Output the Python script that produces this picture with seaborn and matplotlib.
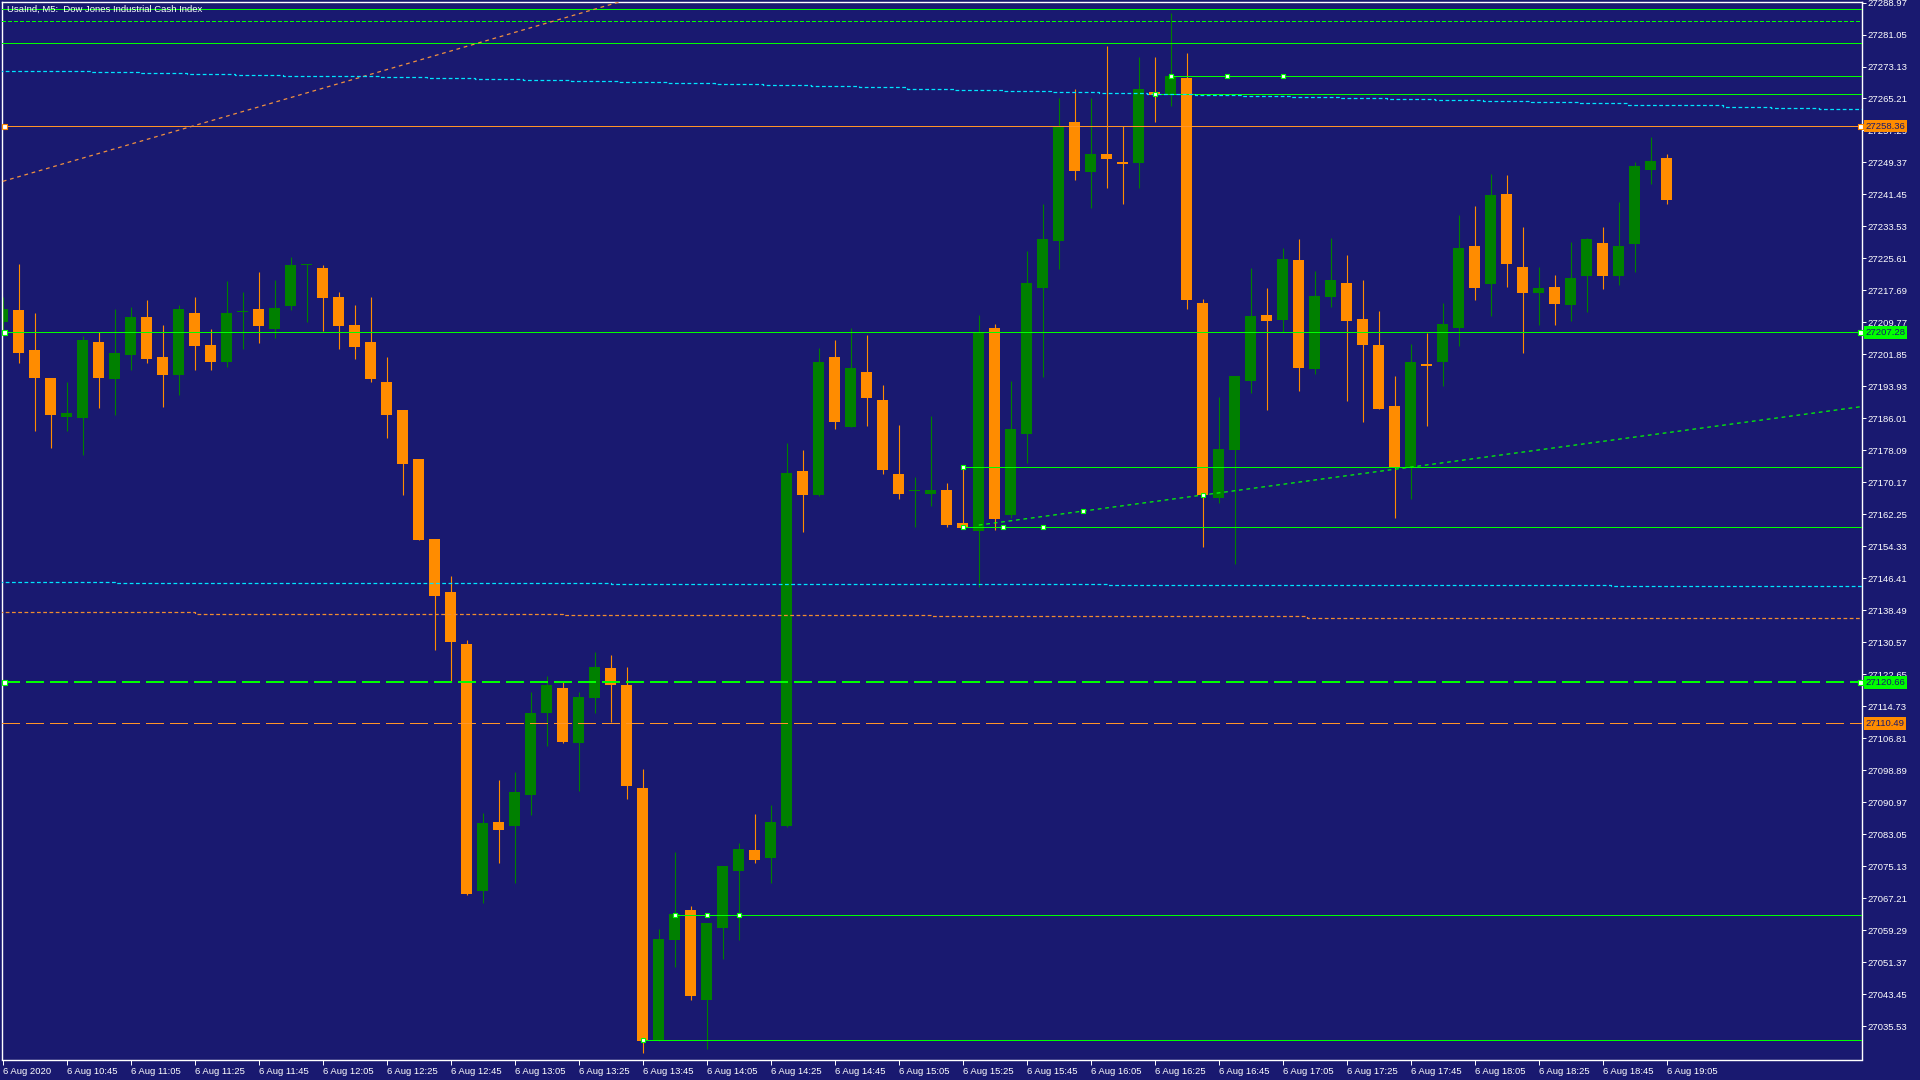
import matplotlib
matplotlib.use('Agg')
import matplotlib.pyplot as plt
import matplotlib.transforms as mtransforms
import numpy as np
import pandas as pd
import seaborn as sns

BG = '#191970'
BULL = '#008000'
BEAR = '#ff8c00'
LIME = '#00ff00'
CYAN = '#00e5ff'

# --- candles (M5 bars from 10:25 to 19:05) ---
opens = [
    27209.9, 27212.9, 27203.0, 27196.1, 27186.3, 27186.2, 27205.0, 27195.8, 27201.8, 27211.2,
    27201.2, 27196.8, 27212.1, 27204.2, 27200.1, 27212.3, 27213.1, 27208.2, 27213.9, 27223.9,
    27223.2, 27216.1, 27209.1, 27205.0, 27195.0, 27188.2, 27176.0, 27156.2, 27143.1, 27130.1,
    27068.9, 27086.2, 27085.0, 27092.9, 27113.2, 27119.3, 27105.7, 27116.9, 27124.1, 27120.1,
    27094.4, 27032.0, 27056.9, 27064.2, 27042.0, 27059.9, 27073.9, 27079.1, 27077.2, 27085.0,
    27173.0, 27167.1, 27201.2, 27184.0, 27197.5, 27190.5, 27172.2, 27168.0, 27167.3, 27168.2,
    27160.2, 27158.2, 27208.4, 27162.0, 27182.2, 27218.3, 27230.0, 27259.4, 27247.1, 27251.5,
    27249.5, 27249.2, 27266.8, 27266.4, 27270.3, 27214.5, 27166.3, 27178.1, 27195.2, 27211.6,
    27210.4, 27225.2, 27198.2, 27216.1, 27219.5, 27210.6, 27204.3, 27189.2, 27174.0, 27199.6,
    27200.1, 27208.5, 27228.7, 27219.3, 27241.6, 27223.5, 27217.1, 27218.6, 27214.1, 27221.2,
    27229.4, 27221.2, 27229.1, 27247.6, 27250.5,
]
highs = [
    27216.0, 27224.3, 27212.1, 27196.1, 27195.0, 27206.3, 27207.5, 27213.1, 27213.5, 27215.3,
    27209.1, 27214.2, 27216.1, 27208.2, 27220.1, 27217.4, 27222.3, 27220.4, 27226.0, 27224.3,
    27224.0, 27217.4, 27214.2, 27216.1, 27201.2, 27188.2, 27176.0, 27156.2, 27147.1, 27131.1,
    27088.4, 27096.4, 27098.4, 27118.2, 27122.3, 27121.1, 27118.2, 27128.2, 27127.5, 27124.4,
    27099.3, 27059.5, 27078.6, 27065.2, 27061.2, 27075.3, 27080.9, 27088.1, 27090.2, 27180.0,
    27178.2, 27203.4, 27205.5, 27208.3, 27206.6, 27194.2, 27184.5, 27171.4, 27186.5, 27170.1,
    27174.2, 27211.5, 27209.3, 27195.3, 27227.5, 27239.2, 27265.4, 27267.6, 27265.4, 27278.3,
    27258.4, 27275.5, 27275.5, 27286.5, 27276.5, 27215.5, 27191.2, 27196.5, 27223.3, 27218.3,
    27228.2, 27230.4, 27222.5, 27230.7, 27226.5, 27220.2, 27212.6, 27196.5, 27204.4, 27207.2,
    27214.5, 27236.4, 27238.7, 27246.5, 27246.3, 27233.4, 27223.5, 27221.5, 27229.6, 27230.6,
    27233.4, 27239.5, 27249.5, 27255.7, 27251.5,
]
lows = [
    27207.0, 27199.8, 27183.0, 27178.7, 27182.9, 27176.9, 27188.7, 27186.9, 27198.0, 27199.8,
    27188.9, 27191.9, 27197.9, 27197.9, 27198.8, 27203.1, 27204.7, 27205.9, 27212.9, 27209.8,
    27207.7, 27203.1, 27200.7, 27195.0, 27181.1, 27167.0, 27156.0, 27128.8, 27120.8, 27068.0,
    27066.1, 27075.9, 27070.9, 27087.9, 27104.8, 27105.7, 27093.8, 27113.0, 27110.9, 27091.9,
    27028.9, 27031.9, 27050.2, 27042.0, 27029.9, 27052.2, 27057.0, 27075.9, 27070.9, 27084.8,
    27158.0, 27166.8, 27183.4, 27184.0, 27184.2, 27172.3, 27166.0, 27159.2, 27164.3, 27159.1,
    27158.6, 27144.3, 27158.4, 27161.3, 27175.0, 27196.3, 27223.0, 27245.0, 27238.2, 27243.1,
    27239.1, 27243.1, 27259.5, 27263.3, 27213.1, 27154.3, 27165.1, 27149.9, 27192.4, 27188.1,
    27207.3, 27192.9, 27197.1, 27213.5, 27190.2, 27185.1, 27188.4, 27161.3, 27166.0, 27184.2,
    27194.0, 27203.9, 27215.3, 27211.4, 27218.6, 27202.3, 27209.2, 27209.2, 27210.2, 27212.3,
    27218.1, 27219.0, 27222.3, 27244.0, 27239.1,
]
closes = [
    27213.1, 27202.1, 27196.1, 27186.9, 27187.4, 27205.5, 27196.1, 27202.3, 27211.2, 27200.7,
    27196.8, 27213.1, 27204.0, 27200.1, 27212.1, 27212.4, 27209.0, 27213.4, 27224.0, 27224.1,
    27215.9, 27209.0, 27203.7, 27195.8, 27186.9, 27174.8, 27156.0, 27142.1, 27130.7, 27068.2,
    27085.9, 27084.0, 27093.4, 27113.2, 27120.1, 27106.0, 27117.1, 27124.4, 27120.1, 27095.1,
    27032.0, 27057.2, 27063.2, 27042.9, 27061.2, 27075.3, 27079.3, 27076.8, 27086.2, 27172.4,
    27167.1, 27200.1, 27185.2, 27198.4, 27191.0, 27173.3, 27167.3, 27168.2, 27168.2, 27159.7,
    27159.0, 27207.3, 27161.0, 27183.4, 27219.5, 27230.4, 27258.3, 27247.3, 27251.5, 27250.2,
    27249.1, 27267.6, 27266.2, 27270.8, 27215.3, 27167.0, 27178.4, 27196.5, 27211.3, 27210.2,
    27225.4, 27198.5, 27216.3, 27220.2, 27210.2, 27204.2, 27188.4, 27174.0, 27200.1, 27199.0,
    27209.3, 27228.2, 27218.3, 27241.3, 27224.2, 27217.1, 27218.3, 27214.4, 27220.7, 27230.4,
    27221.2, 27228.7, 27248.6, 27249.7, 27240.1,
]

tick_times = [
    '6 Aug 2020', '6 Aug 10:45', '6 Aug 11:05', '6 Aug 11:25', '6 Aug 11:45', '6 Aug 12:05',
    '6 Aug 12:25', '6 Aug 12:45', '6 Aug 13:05', '6 Aug 13:25', '6 Aug 13:45', '6 Aug 14:05',
    '6 Aug 14:25', '6 Aug 14:45', '6 Aug 15:05', '6 Aug 15:25', '6 Aug 15:45', '6 Aug 16:05',
    '6 Aug 16:25', '6 Aug 16:45', '6 Aug 17:05', '6 Aug 17:25', '6 Aug 17:45', '6 Aug 18:05',
    '6 Aug 18:25', '6 Aug 18:45', '6 Aug 19:05',
]
price_ticks = [
    27288.97, 27281.05, 27273.13, 27265.21, 27257.29, 27249.37, 27241.45, 27233.53, 27225.61,
    27217.69, 27209.77, 27201.85, 27193.93, 27186.01, 27178.09, 27170.17, 27162.25, 27154.33,
    27146.41, 27138.49, 27130.57, 27122.65, 27114.73, 27106.81, 27098.89, 27090.97, 27083.05,
    27075.13, 27067.21, 27059.29, 27051.37, 27043.45, 27035.53,
]

# --- chart objects ---
green_levels = [27287.4, 27279.0, 27207.28]
green_dotted_level = 27284.3
orange_level = 27258.36
green_dash_level = 27120.66
orange_dash_level = 27110.49

seg_start = [72, 73, 60, 60, 42, 40]
seg_value = [27266.3, 27270.7, 27174.1, 27159.2, 27063.1, 27032.2]

anchor_x = [72, 73, 76.5, 80, 60, 60, 62.5, 65, 67.5, 75, 42, 44, 46, 40]
anchor_y = [27266.3, 27270.7, 27270.7, 27270.7, 27174.1, 27159.2, 27159.2, 27159.2,
            27163.1, 27167.1, 27063.1, 27063.1, 27063.1, 27032.2]

trend_up_x = [61, 116.3]
trend_up_y = [27159.6, 27189.0]
trend_or_x = [0, 40]
trend_or_y = [27244.7, 27290.8]

ma_top_x = list(np.arange(-0.5, 117, 3))
ma_top = [
    27272.1, 27271.9, 27271.7, 27271.5, 27271.3, 27271.1, 27270.9, 27270.7, 27270.5, 27270.3,
    27270.0, 27269.8, 27269.6, 27269.3, 27269.1, 27268.8, 27268.6, 27268.3, 27268.0, 27267.6,
    27267.3, 27267.0, 27266.8, 27266.5, 27266.4, 27266.1, 27265.8, 27265.5, 27265.3, 27265.0,
    27264.8, 27264.5, 27264.3, 27264.0, 27263.7, 27263.5, 27263.2, 27262.9, 27262.6,
]
ma_low_x = [-0.5, 7, 38, 69, 100.5, 116.5]
ma_low = [27145.5, 27145.3, 27145.0, 27144.8, 27144.5]
ma_or_x = [-0.5, 12, 35, 58, 81.5, 116.5]
ma_or = [27138.0, 27137.7, 27137.4, 27137.1, 27136.7]

title = 'UsaInd, M5:  Dow Jones Industrial Cash Index'

sns.set_style('dark', rc={
    'axes.facecolor': BG, 'figure.facecolor': BG, 'axes.edgecolor': 'white',
    'xtick.color': 'white', 'ytick.color': 'white', 'text.color': 'white',
    'axes.grid': False,
})
plt.rcParams['font.family'] = ['Liberation Sans', 'DejaVu Sans']

df = pd.DataFrame({'open': opens, 'high': highs, 'low': lows, 'close': closes})
df['x'] = np.arange(len(df))
df['bull'] = df['close'] >= df['open']
df['color'] = np.where(df['bull'], BULL, BEAR)
df['bottom'] = df[['open', 'close']].min(axis=1)
df['height'] = (df['close'] - df['open']).abs().clip(lower=0.3)

fig = plt.figure(figsize=(19.2, 10.8), dpi=100)
ax = fig.add_axes([2 / 1920, 1 - 1059.5 / 1080, 1860 / 1920, 1057.5 / 1080])

XMAX = 116.2
ax.set_xlim(-0.05, XMAX)
ax.set_ylim(27027.3, 27289.1)

# candles
ax.vlines(df['x'], df['low'], df['high'], colors=df['color'], linewidth=0.8, zorder=2)
ax.bar(df['x'], df['height'], bottom=df['bottom'], width=0.68, color=df['color'],
       linewidth=0, zorder=2.5)


def line(x, y, color, lw=0.72, ls='-', steps=False, crisp=False):
    kw = {'drawstyle': 'steps-post'} if steps else {}
    if crisp:
        kw['antialiased'] = False
    sns.lineplot(x=x, y=y, ax=ax, color=color, linewidth=lw, linestyle=ls,
                 estimator=None, sort=False, zorder=3, **kw)


full = [-0.05, XMAX]
for v in green_levels:
    line(full, [v, v], LIME, crisp=True)
line(full, [green_dotted_level] * 2, LIME, ls=(0, (4, 2.5)), crisp=True)
line(full, [orange_level] * 2, '#ff9428', crisp=True)
line(full, [green_dash_level] * 2, LIME, lw=1.44, ls=(0, (9, 3)), crisp=True)
line(full, [orange_dash_level] * 2, '#ff9428', lw=0.72, ls=(0, (18, 6)), crisp=True)

for s, v in zip(seg_start, seg_value):
    line([s, XMAX], [v, v], LIME, crisp=True)

line(trend_up_x, trend_up_y, LIME, lw=0.9, ls=(0, (3, 3)))
line(trend_or_x, trend_or_y, '#f09040', lw=0.9, ls=(0, (3, 3)))

line(ma_top_x, ma_top + [ma_top[-1]], CYAN, lw=0.9, ls=(0, (3, 2)), steps=True)
line(ma_low_x, ma_low + [ma_low[-1]], CYAN, lw=0.9, ls=(0, (3, 2)), steps=True)
line(ma_or_x, ma_or + [ma_or[-1]], '#f08c30', lw=0.9, ls=(0, (3, 2)), steps=True)

ax.plot(anchor_x, anchor_y, linestyle='none', marker='s', markersize=3.2,
        mfc='white', mec=LIME, mew=0.8, zorder=4)
for v, c in [(orange_level, BEAR), (27207.28, LIME), (green_dash_level, LIME)]:
    ax.plot([0.05, XMAX - 0.12], [v, v], linestyle='none', marker='s', markersize=3.6,
            mfc='white', mec=c, mew=0.8, zorder=4, clip_on=False)

# axes
ax.set_xlabel('')
ax.set_ylabel('')
for sp in ax.spines.values():
    sp.set_color('white')
    sp.set_linewidth(1.0)
    sp.set_visible(True)

ax.set_xticks(np.arange(0, 4 * len(tick_times), 4))
ax.set_xticklabels(tick_times)
ax.yaxis.tick_right()
ax.set_yticks(price_ticks)
ax.set_yticklabels([f'{p:.2f}' for p in price_ticks])
ax.tick_params(axis='x', bottom=True, colors='white', labelcolor='white',
               length=3.6, width=0.7, pad=1.5, labelsize=6.8, direction='out')
ax.tick_params(axis='y', right=True, left=False, colors='white', labelcolor='white',
               length=3.2, width=0.7, pad=1.0, labelsize=6.8, direction='out')
for lab in ax.get_xticklabels():
    lab.set_horizontalalignment('left')

# price labels on the axis
trans = mtransforms.blended_transform_factory(ax.transAxes, ax.transData)
for v, c in [(orange_level, BEAR), (27207.28, LIME), (green_dash_level, LIME),
             (orange_dash_level, BEAR)]:
    ax.text(1.0018, v, f'{v:.2f}', transform=trans, ha='left', va='center',
            fontsize=6.8, color=BG, clip_on=False, zorder=10,
            bbox=dict(boxstyle='square,pad=0.18', fc=c, ec='none'))

fig.text(7 / 1920, 1 - 9 / 1080, title, ha='left', va='center', fontsize=6.8,
         color='white')

fig.savefig('out.png', dpi=100, facecolor=BG)
